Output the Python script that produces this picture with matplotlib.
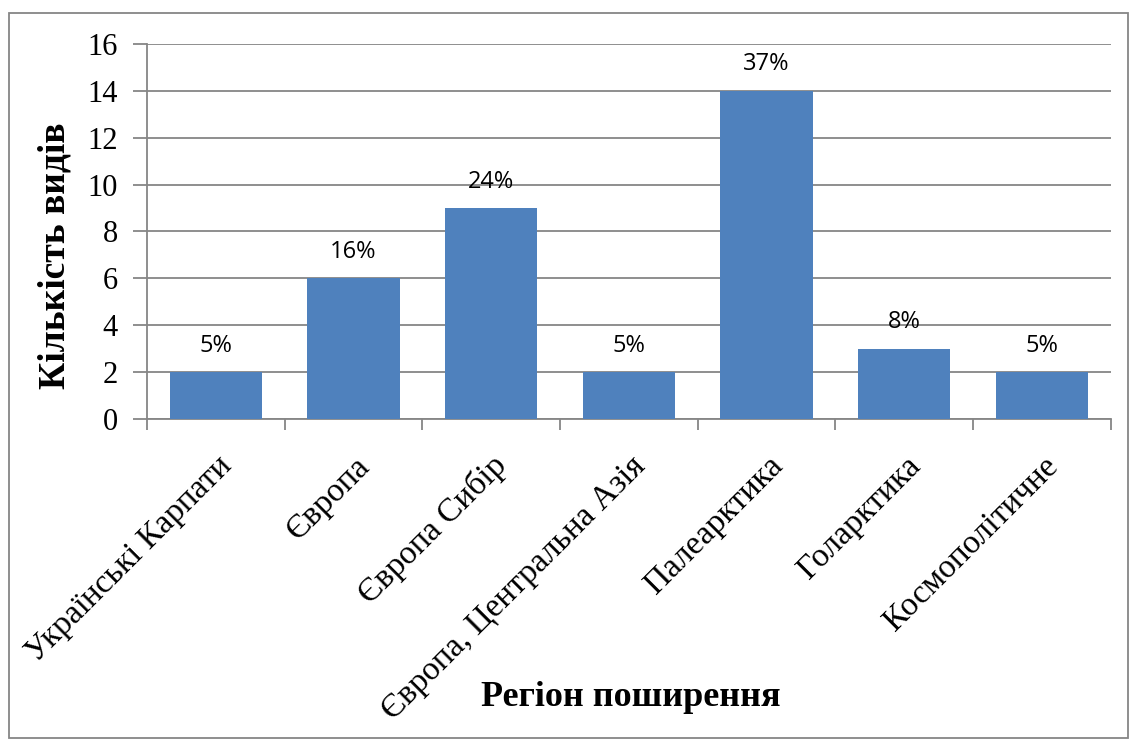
import matplotlib
matplotlib.use('Agg')
import matplotlib.pyplot as plt
from matplotlib.patches import Rectangle

# Data
regions = ['Українські Карпати', 'Європа', 'Європа Сибір',
           'Європа, Центральна Азія', 'Палеарктика', 'Голарктика',
           'Космополітичне']
counts = [2, 6, 9, 2, 14, 3, 2]
shares = ['5%', '16%', '24%', '5%', '37%', '8%', '5%']

plt.rcParams['font.family'] = ['Liberation Serif', 'DejaVu Serif']

fig = plt.figure(figsize=(11.3, 7.4), dpi=100)
ax = fig.add_axes([0.130, 0.434, 0.853, 0.5065])

grid_col = '#868686'
x = range(len(regions))
bars = ax.bar(x, counts, width=0.67, color='#4F81BD', zorder=3)

for bar, lab in zip(bars, shares):
    ax.annotate(lab, (bar.get_x() + bar.get_width() / 2, bar.get_height()),
                xytext=(0, 19), textcoords='offset points',
                ha='center', va='center', fontsize=17,
                family=['Open Sans', 'DejaVu Sans'], zorder=4)

ax.set_xlim(-0.5, len(regions) - 0.5)
ax.set_ylim(0, 16)
ax.set_yticks(range(0, 17, 2))
ax.tick_params(axis='y', labelsize=22, length=10, color=grid_col, width=1.3, pad=11)
ax.yaxis.grid(True, color=grid_col, linewidth=1.3, zorder=0)

# category ticks between bars, labels at bar centres
ax.set_xticks([i - 0.5 for i in range(len(regions) + 1)])
ax.set_xticklabels([])
ax.tick_params(axis='x', length=8, color=grid_col, width=1.3)
for i, name in enumerate(regions):
    ax.annotate(name, (i, 0), xytext=(12.5, -35), textcoords='offset points',
                rotation=45, ha='right', va='baseline', rotation_mode='anchor',
                fontsize=24, annotation_clip=False)

for side in ['top', 'right']:
    ax.spines[side].set_visible(False)
for side in ['left', 'bottom']:
    ax.spines[side].set_color(grid_col)
    ax.spines[side].set_linewidth(1.3)

fig.text(0.0487, 0.655, 'Кількість видів', rotation=90, ha='center', va='center',
         fontsize=27, fontweight='bold')
fig.text(0.558, 0.058, 'Регіон поширення', ha='center', va='center',
         fontsize=26, fontweight='bold')

# outer border of the chart area
fig.patches.append(Rectangle((0.008, 0.003), 0.99, 0.98, transform=fig.transFigure,
                             fill=False, edgecolor=grid_col, linewidth=1.3))

fig.savefig('out.png', dpi=100)
